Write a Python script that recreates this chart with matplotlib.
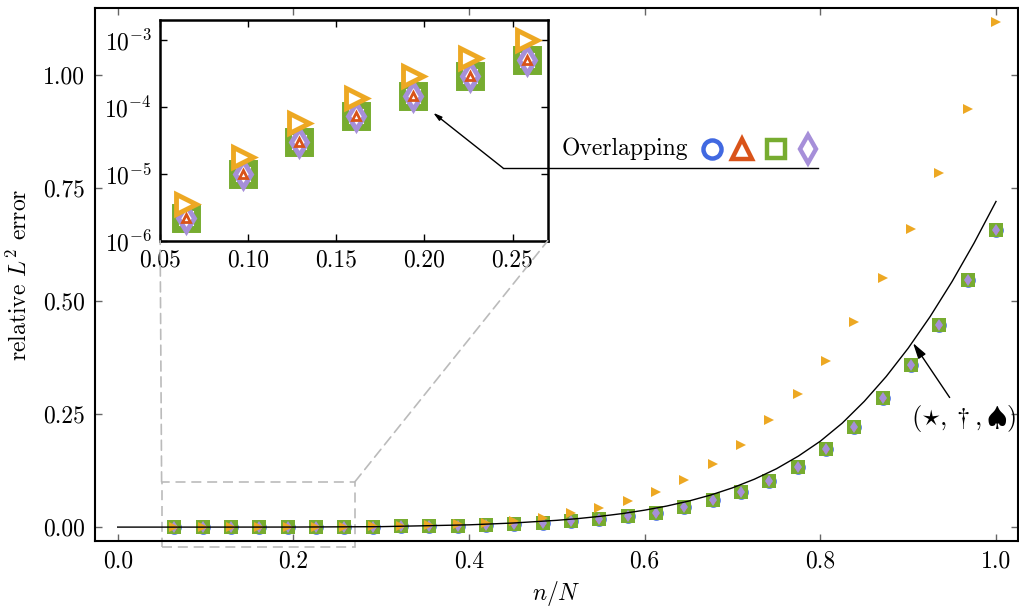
import numpy as np
import matplotlib
matplotlib.use("Agg")
import matplotlib.pyplot as plt
from matplotlib.lines import Line2D
from matplotlib.patches import Rectangle, ConnectionPatch
from matplotlib.ticker import FormatStrFormatter, NullLocator, FixedLocator

plt.rcParams['font.family'] = 'serif'
plt.rcParams['font.serif'] = ['cmr10']
plt.rcParams['mathtext.fontset'] = 'cm'
plt.rcParams['axes.unicode_minus'] = False
plt.rcParams['axes.formatter.use_mathtext'] = True
FS = 17

# ------------------------------------------------------------
# data
# ------------------------------------------------------------
N = 31
n_vals = [2, 3, 4, 5, 6, 7, 8, 9, 10, 11, 12, 13, 14, 15, 16,
          17, 18, 19, 20, 21, 22, 23, 24, 25, 26, 27, 28, 29, 30, 31]

# the four overlapping methods (circle, triangle, square, diamond)
err_overlap = [2.2e-6, 1.0e-5, 3.0e-5, 7.3e-5, 1.48e-4, 2.9e-4, 5.0e-4,
               8.5e-4, 1.4e-3, 2.2e-3, 3.3e-3, 4.9e-3, 7.0e-3, 9.8e-3,
               0.0135, 0.018, 0.024, 0.032, 0.044, 0.059, 0.077, 0.101,
               0.133, 0.172, 0.222, 0.285, 0.358, 0.447, 0.546, 0.657]

# right-pointing triangle method
err_right = [3.6e-6, 1.8e-5, 5.7e-5, 1.36e-4, 2.9e-4, 5.5e-4, 1.0e-3,
             1.6e-3, 2.6e-3, 4.0e-3, 6.0e-3, 9.0e-3, 0.013, 0.021,
             0.031, 0.042, 0.057, 0.078, 0.104, 0.140, 0.182, 0.236,
             0.295, 0.368, 0.453, 0.551, 0.660, 0.783, 0.925, 1.117]

# reference curve (star, dagger, spade)
curve_x = [0.0, 0.1, 0.2, 0.3, 0.4, 0.45, 0.5, 0.525, 0.55, 0.575, 0.6,
           0.625, 0.65, 0.675, 0.7, 0.725, 0.75, 0.775, 0.8, 0.825, 0.85,
           0.875, 0.9, 0.925, 0.95, 0.975, 1.0]
curve_y = [0.0, 0.0, 0.0001, 0.001, 0.005, 0.009, 0.015, 0.019, 0.024,
           0.030, 0.0375, 0.0465, 0.0575, 0.0708, 0.0868, 0.106, 0.129,
           0.157, 0.190, 0.230, 0.278, 0.333, 0.3955, 0.4655, 0.543,
           0.628, 0.720]

x = np.array(n_vals) / N

C_BLUE = '#4169E1'
C_RED = '#D95319'
C_GREEN = '#77AC30'
C_PURPLE = '#A68FD9'
C_ORANGE = '#EDA823'
ARROW = '-|>,head_length=0.5,head_width=0.14'

# ------------------------------------------------------------
# main axes
# ------------------------------------------------------------
fig = plt.figure(figsize=(10.2, 6.08), dpi=100)
ax = fig.add_axes([0.093, 0.110, 0.905, 0.877])

ax.plot(x, err_overlap, 'o', color=C_BLUE, ms=10.5, mew=0, zorder=2)
ax.plot(x, err_overlap, 's', color=C_GREEN, ms=9.5, mew=0, zorder=2)
ax.plot(x, err_overlap, '^', color=C_RED, ms=5, mew=0, zorder=2)
ax.plot(x, err_overlap, 'd', color=C_PURPLE, ms=6.5, mew=0, zorder=2)
ax.plot(x, err_right, '>', color=C_ORANGE, ms=7, mew=0, zorder=2)
ax.plot(curve_x, curve_y, '-', color='k', lw=1.0, zorder=3)

ax.set_xlim(-0.026, 1.025)
ax.set_ylim(-0.031, 1.148)
ax.xaxis.set_major_locator(FixedLocator([0.0, 0.2, 0.4, 0.6, 0.8, 1.0]))
ax.yaxis.set_major_locator(FixedLocator([0.0, 0.25, 0.5, 0.75, 1.0]))
ax.xaxis.set_major_formatter(FormatStrFormatter('%.1f'))
ax.yaxis.set_major_formatter(FormatStrFormatter('%.2f'))
ax.tick_params(direction='in', top=True, right=True, length=5, width=1,
               color='0.4', labelsize=FS, pad=7)
for s in ax.spines.values():
    s.set_linewidth(1.5)
ax.set_xlabel(r'$n/N$', fontsize=FS, labelpad=4)
ax.set_ylabel(r'relative $L^2$ error', fontsize=FS, labelpad=8)

ax.annotate(r'$(\star, \dagger, \spadesuit)$', xy=(0.9055, 0.407),
            xytext=(0.963, 0.241), ha='center', va='center', fontsize=FS + 2,
            arrowprops=dict(arrowstyle=ARROW, color='k', lw=1.0,
                            shrinkA=2, shrinkB=0))

# ------------------------------------------------------------
# inset (log scale zoom)
# ------------------------------------------------------------
axin = fig.add_axes([0.157, 0.604, 0.380, 0.363])
axin.set_yscale('log')
axin.plot(x, err_overlap, 'o', color=C_BLUE, mfc='white', ms=12, mew=2.5)
axin.plot(x, err_overlap, 's', color=C_GREEN, mfc='white', ms=16, mew=5)
axin.plot(x, err_overlap, 'd', color=C_PURPLE, mfc='white', ms=13.5, mew=3.5)
axin.plot(x, err_overlap, '^', color=C_RED, mfc='white', ms=6, mew=2)
axin.plot(x, err_right, '>', color=C_ORANGE, mfc='white', ms=14, mew=3.5)
axin.set_xlim(0.05, 0.27)
axin.set_ylim(1e-6, 2e-3)
axin.xaxis.set_major_locator(FixedLocator([0.05, 0.10, 0.15, 0.20, 0.25]))
axin.xaxis.set_major_formatter(FormatStrFormatter('%.2f'))
axin.yaxis.set_minor_locator(NullLocator())
axin.tick_params(direction='in', top=True, right=True, length=5, width=1,
                 labelsize=FS, pad=6)
for s in axin.spines.values():
    s.set_linewidth(1.8)

# dashed zoom box + connectors
rect = Rectangle((0.05, -0.045), 0.22, 0.145, fill=False, ec='#bbbbbb',
                 lw=1.2, ls=(0, (6, 3.5)), clip_on=False, zorder=1)
ax.add_patch(rect)
for xc in (0.05, 0.27):
    con = ConnectionPatch(xyA=(xc, 0.1), coordsA=ax.transData,
                          xyB=(xc, 1e-6), coordsB=axin.transData,
                          color='#bbbbbb', lw=1.2, ls=(0, (6, 3.5)), zorder=1)
    fig.add_artist(con)

# "Overlapping" note with markers
W, H = 1020, 608
fig.text(562 / W, 1 - 149 / H, 'Overlapping', fontsize=FS, ha='left', va='center')
note_marks = [('o', C_BLUE, 712, 13), ('^', C_RED, 742, 14),
              ('s', C_GREEN, 776, 13), ('d', C_PURPLE, 808, 14)]
for mk, col, px, ms in note_marks:
    fig.add_artist(Line2D([px / W], [1 - 149 / H], marker=mk, color=col,
                          mfc='white', ms=ms, mew=3.2, ls='none',
                          transform=fig.transFigure))
fig.add_artist(Line2D([503 / W, 818 / W], [440 / H, 440 / H], color='k',
                      lw=1.0, transform=fig.transFigure))
axin.annotate('', xy=(0.205, 8.2e-5), xycoords='data',
              xytext=(503 / W, 440 / H), textcoords='figure fraction',
              arrowprops=dict(arrowstyle=ARROW, color='k', lw=1.0,
                              shrinkA=0, shrinkB=0),
              annotation_clip=False)

fig.savefig('out.png', dpi=100)
